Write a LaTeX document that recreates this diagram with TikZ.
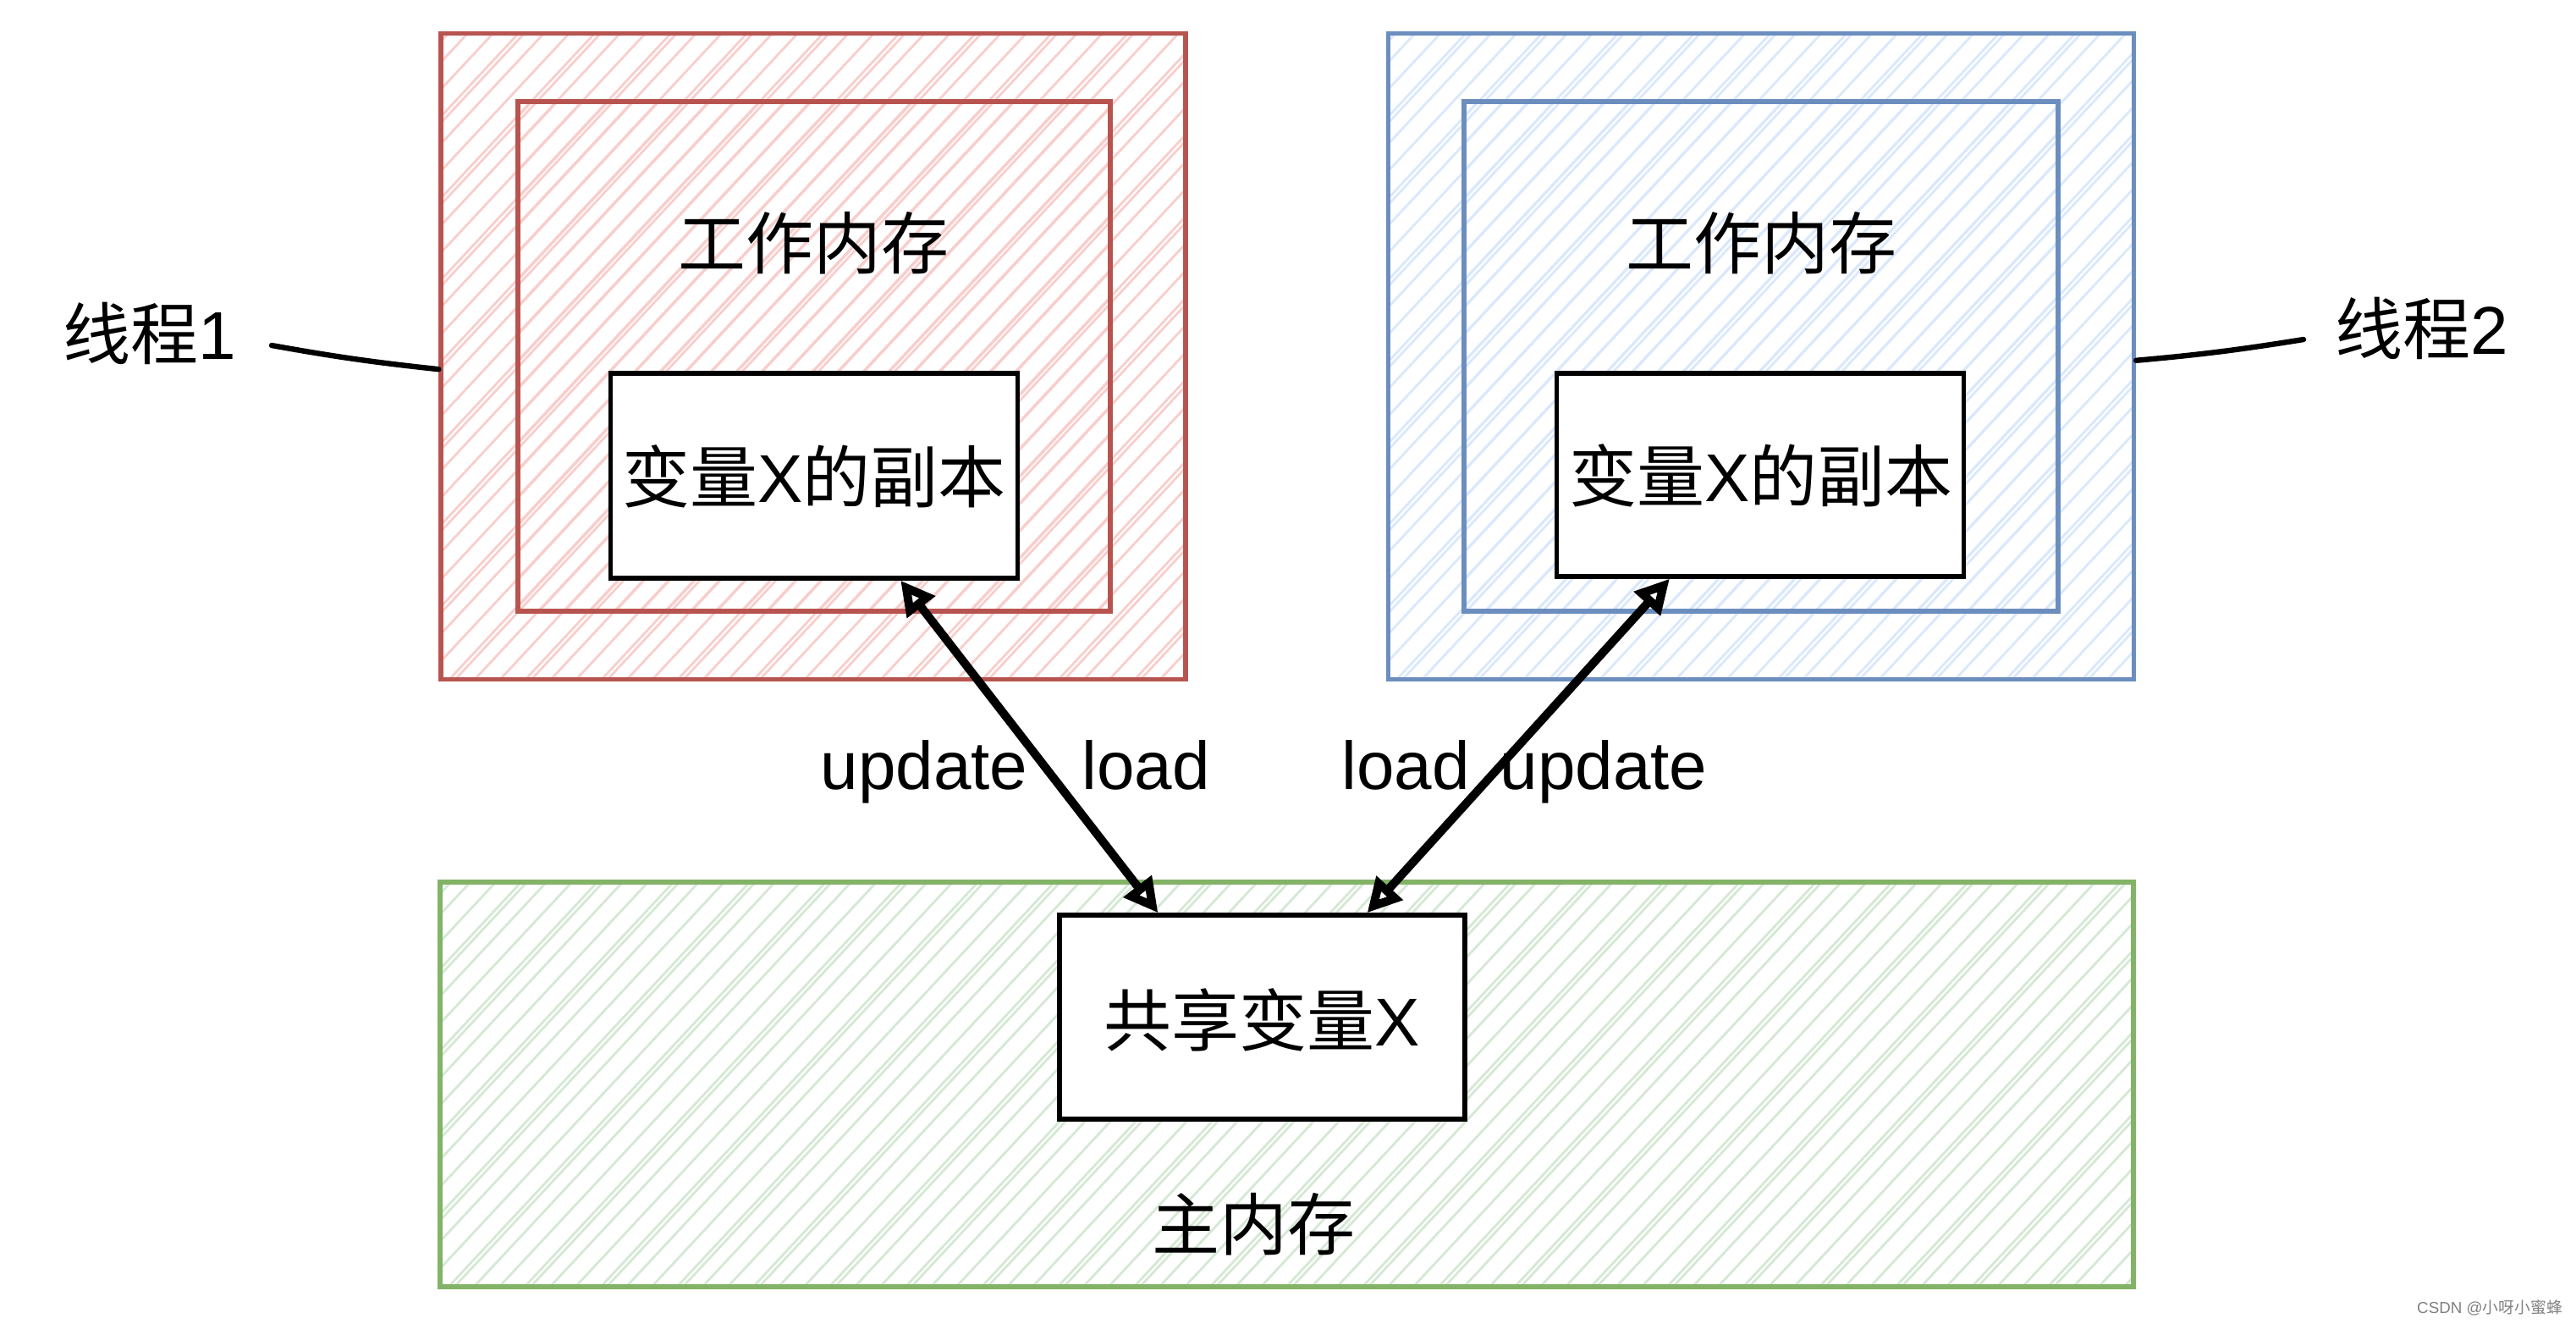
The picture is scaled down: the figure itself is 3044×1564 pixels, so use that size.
\documentclass[tikz,border=0pt]{standalone}
\usepackage{fontspec}
\setmainfont{Liberation Sans}
\newfontfamily\cjk{Noto Sans CJK SC}
\usetikzlibrary{arrows.meta,calc}
\definecolor{redS}{HTML}{B85450}
\definecolor{redF}{HTML}{F8CECC}
\definecolor{bluS}{HTML}{6C8EBF}
\definecolor{bluF}{HTML}{DAE8FC}
\definecolor{grnS}{HTML}{82B366}
\definecolor{grnF}{HTML}{D5E8D4}
\begin{document}
\begin{tikzpicture}[x=0.25pt,y=-0.25pt,
  box/.style={draw,rectangle,inner sep=0pt,line width=1.3pt},
  copybox/.style={box,draw=black,fill=white,line width=1.3pt},
  big/.style={font=\fontsize{20pt}{24pt}\selectfont},
  hatchline/.style={line width=0.7pt},
  hatchA/.style={path picture={
    \foreach \t in {-800,-770,...,2100}
      \draw[#1,hatchline] ($(path picture bounding box.south west)+(\t,0)$) -- ++(900,-965);
    \foreach \t in {-793,-703,...,2100}
      \draw[#1,hatchline] ($(path picture bounding box.south west)+(\t,0)$) -- ++(900,-965);
  }},
  hatchB/.style={path picture={
    \foreach \t in {-785,-755,...,2100}
      \draw[#1,hatchline] ($(path picture bounding box.south west)+(\t,0)$) -- ++(900,-965);
  }},
  tipw/.tip={Triangle[length=10pt,width=10pt,fill=white]},
  link/.style={line width=2.5pt,tipw-tipw},
  leader/.style={line width=1.6pt,line cap=round},
  wmark/.style={font=\fontsize{4.7pt}{5.5pt}\selectfont,text=black!50}]
\useasboundingbox (0,0) rectangle (3044,1564);

% thread 1
\node[box,draw=redS,hatchA=redF,minimum width=220pt,minimum height=190.75pt] (redO) at (961,421) {};
\node[box,draw=redS,hatchB=redF,minimum width=175pt,minimum height=150.5pt] (redI) at (962,421) {};
\node[copybox,minimum width=120.25pt,minimum height=60.5pt] (copyL) at (962,562) {};
\node[big] (workL) at (961,287) {\cjk 工作内存};
\node[big] (copyLt) at (962,563) {{\cjk 变量}X{\cjk 的副本}};

% thread 2
\node[box,draw=bluS,hatchA=bluF,minimum width=220.25pt,minimum height=190.75pt] (bluO) at (2081,421) {};
\node[box,draw=bluS,hatchB=bluF,minimum width=175.5pt,minimum height=150.5pt] (bluI) at (2081,421) {};
\node[copybox,minimum width=120.25pt,minimum height=60pt] (copyR) at (2080,561) {};
\node[big] (workR) at (2081,287) {\cjk 工作内存};
\node[big] (copyRt) at (2081,562) {{\cjk 变量}X{\cjk 的副本}};

% main memory
\node[box,draw=grnS,hatchA=grnF,minimum width=500.25pt,minimum height=119.5pt] (mainM) at (1520.5,1281) {};
\node[copybox,minimum width=119.75pt,minimum height=60.25pt] (shared) at (1491.5,1201.5) {};
\node[big] (sharedt) at (1491,1205) {{\cjk 共享变量}X};
\node[big] (maint) at (1481,1446) {\cjk 主内存};

% thread labels and leaders
\node[big] (thr1) at (177,394) {{\cjk 线程}1};
\node[big] (thr2) at (2862,388) {{\cjk 线程}2};
\coordinate (l1) at (321,408);
\coordinate (l2) at (2722,401);
\draw[leader] (l1) to[bend right=2] ([yshift=-3.8pt]redO.west);
\draw[leader] ([yshift=-1.2pt]bluO.east) to[bend right=2] (l2);

% arrows
\draw[link] ($(copyL.south west)!0.71!(copyL.south east)$) -- ($(shared.north west)!0.246!(shared.north east)$);
\draw[link] ($(copyR.south west)!0.28!(copyR.south east)$) -- ($(shared.north west)!0.756!(shared.north east)$);

% arrow labels
\node[big,anchor=base] (upL) at (1092,932) {update};
\node[big,anchor=base] (ldL) at (1354,932) {load};
\node[big,anchor=base] (ldR) at (1661,932) {load};
\node[big,anchor=base] (upR) at (1895,932) {update};

% watermark
\node[wmark] (wm) at (2942,1545) {CSDN @{\cjk 小呀小蜜蜂}};
\end{tikzpicture}
\end{document}
